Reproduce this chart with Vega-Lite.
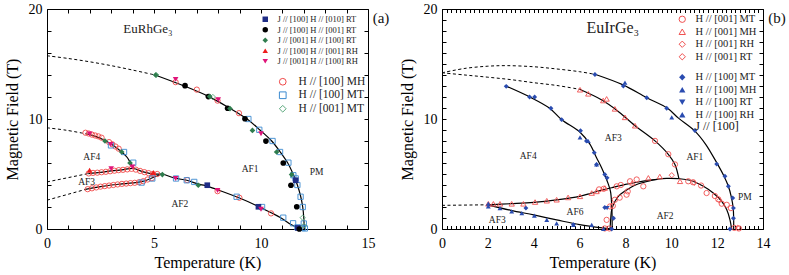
{
"$schema": "https://vega.github.io/schema/vega-lite/v6.json",
"padding": {"left": 3, "top": 1, "right": 0, "bottom": 0},
"spacing": 8,
"config": {
  "view": {"stroke": "black", "strokeWidth": 1},
  "axis": {"grid": false, "domain": false, "tickColor": "black", "tickWidth": 1, "labelColor": "black", "titleColor": "black", "labelFont": "Liberation Serif", "titleFont": "Liberation Serif", "titleFontWeight": "normal", "labelFlush": false, "labelOverlap": false},
  "legend": {"labelFont": "Liberation Serif", "labelColor": "#222", "titleFont": "Liberation Serif", "titleColor": "#111", "titleFontWeight": "normal", "padding": 0, "labelLimit": 300},
  "text": {"font": "Liberation Serif"}
},
"datasets": {
  "aL": [
    {"c":"u0","st":"d","T":0,"H":15.75},{"c":"u0","st":"d","T":1,"H":15.5},{"c":"u0","st":"d","T":2,"H":15.2},{"c":"u0","st":"d","T":3,"H":14.85},{"c":"u0","st":"d","T":4,"H":14.45},{"c":"u0","st":"d","T":5.05,"H":14.0},
    {"c":"u1","st":"s","T":5.05,"H":14.0},{"c":"u1","st":"s","T":6.45,"H":12.97},{"c":"u1","st":"s","T":7.54,"H":12.06},{"c":"u1","st":"s","T":8.44,"H":11.1},{"c":"u1","st":"s","T":9.35,"H":10.0},{"c":"u1","st":"s","T":9.95,"H":9.0},{"c":"u1","st":"s","T":10.5,"H":8.0},{"c":"u1","st":"s","T":10.9,"H":7.0},{"c":"u1","st":"s","T":11.25,"H":6.0},{"c":"u1","st":"s","T":11.5,"H":5.0},{"c":"u1","st":"s","T":11.7,"H":4.0},{"c":"u1","st":"s","T":11.85,"H":3.0},{"c":"u1","st":"s","T":11.95,"H":2.0},{"c":"u1","st":"s","T":12.0,"H":1.0},{"c":"u1","st":"s","T":12.02,"H":0},
    {"c":"l1","st":"s","T":5.39,"H":5.02},{"c":"l1","st":"s","T":5.98,"H":4.62},{"c":"l1","st":"s","T":6.53,"H":4.43},{"c":"l1","st":"s","T":7.07,"H":4.08},{"c":"l1","st":"s","T":7.4,"H":3.95},{"c":"l1","st":"s","T":8.0,"H":3.55},{"c":"l1","st":"s","T":8.94,"H":2.86},{"c":"l1","st":"s","T":9.88,"H":2.05},{"c":"l1","st":"s","T":10.5,"H":1.45},{"c":"l1","st":"s","T":10.9,"H":1.05},{"c":"l1","st":"s","T":11.4,"H":0.4},{"c":"l1","st":"s","T":11.85,"H":0},
    {"c":"f0","st":"d","T":0,"H":9.2},{"c":"f0","st":"d","T":0.9,"H":8.98},{"c":"f0","st":"d","T":1.8,"H":8.66},
    {"c":"f1","st":"s","T":1.8,"H":8.66},{"c":"f1","st":"s","T":2.3,"H":8.4},{"c":"f1","st":"s","T":2.71,"H":8.05},{"c":"f1","st":"s","T":3.1,"H":7.6},{"c":"f1","st":"s","T":3.49,"H":7.0},{"c":"f1","st":"s","T":3.75,"H":6.5},{"c":"f1","st":"s","T":3.9,"H":6.0},{"c":"f1","st":"s","T":4.05,"H":5.5},
    {"c":"g0","st":"d","T":0,"H":4.28},{"c":"g0","st":"d","T":1.93,"H":5.04},
    {"c":"g1","st":"s","T":1.93,"H":5.04},{"c":"g1","st":"s","T":2.5,"H":5.15},{"c":"g1","st":"s","T":3.0,"H":5.28},{"c":"g1","st":"s","T":3.5,"H":5.38},{"c":"g1","st":"s","T":4.03,"H":5.5},{"c":"g1","st":"s","T":4.5,"H":5.2},{"c":"g1","st":"s","T":5.0,"H":5.0},{"c":"g1","st":"s","T":5.39,"H":5.02},
    {"c":"h0","st":"d","T":0,"H":2.62},{"c":"h0","st":"d","T":1.8,"H":3.6},
    {"c":"h1","st":"s","T":1.8,"H":3.6},{"c":"h1","st":"s","T":2.5,"H":3.85},{"c":"h1","st":"s","T":3.0,"H":4.0},{"c":"h1","st":"s","T":3.5,"H":4.1},{"c":"h1","st":"s","T":4.0,"H":4.2},{"c":"h1","st":"s","T":4.42,"H":4.3},{"c":"h1","st":"s","T":4.8,"H":4.55},{"c":"h1","st":"s","T":5.05,"H":4.75},{"c":"h1","st":"s","T":5.39,"H":5.02}
  ],
  "aP": [
    {"s":"J // [100] H // [010] RT","T":7.49,"H":3.98},{"s":"J // [100] H // [010] RT","T":9.88,"H":2.02},{"s":"J // [100] H // [010] RT","T":11.62,"H":4.43},{"s":"J // [100] H // [010] RT","T":11.72,"H":0.1},
    {"s":"J // [100] H // [001] RT","T":6.45,"H":13.03},{"s":"J // [100] H // [001] RT","T":7.54,"H":12.04},{"s":"J // [100] H // [001] RT","T":8.44,"H":10.98},{"s":"J // [100] H // [001] RT","T":9.25,"H":10.02},{"s":"J // [100] H // [001] RT","T":10.23,"H":7.99},{"s":"J // [100] H // [001] RT","T":11.04,"H":6.0},{"s":"J // [100] H // [001] RT","T":11.4,"H":3.98},{"s":"J // [100] H // [001] RT","T":11.67,"H":2.02},{"s":"J // [100] H // [001] RT","T":11.79,"H":0.0},
    {"s":"J // [001] H // [100] RT","T":5.08,"H":14.0},{"s":"J // [001] H // [100] RT","T":7.6,"H":12.05},{"s":"J // [001] H // [100] RT","T":8.55,"H":10.95},{"s":"J // [001] H // [100] RT","T":9.6,"H":8.96},{"s":"J // [001] H // [100] RT","T":10.73,"H":7.0},{"s":"J // [001] H // [100] RT","T":11.43,"H":4.95},{"s":"J // [001] H // [100] RT","T":2.71,"H":8.0},{"s":"J // [001] H // [100] RT","T":3.49,"H":7.0},{"s":"J // [001] H // [100] RT","T":3.88,"H":6.0},{"s":"J // [001] H // [100] RT","T":5.39,"H":4.95},{"s":"J // [001] H // [100] RT","T":7.07,"H":3.98},
    {"s":"J // [100] H // [001] RH","T":1.99,"H":5.34},{"s":"J // [100] H // [001] RH","T":4.97,"H":5.13},
    {"s":"J // [001] H // [100] RH","T":1.99,"H":8.65},{"s":"J // [001] H // [100] RH","T":2.98,"H":7.69},{"s":"J // [001] H // [100] RH","T":3.0,"H":5.49},{"s":"J // [001] H // [100] RH","T":3.99,"H":5.64},{"s":"J // [001] H // [100] RH","T":6.01,"H":4.59},{"s":"J // [001] H // [100] RH","T":6.01,"H":13.6},{"s":"J // [001] H // [100] RH","T":8.0,"H":11.75},{"s":"J // [001] H // [100] RH","T":10.0,"H":8.66},{"s":"J // [001] H // [100] RH","T":7.97,"H":3.5},{"s":"J // [001] H // [100] RH","T":10.0,"H":1.8},
    {"s":"H // [100] MH","T":1.8,"H":8.75},{"s":"H // [100] MH","T":1.95,"H":8.68},{"s":"H // [100] MH","T":2.1,"H":8.58},{"s":"H // [100] MH","T":2.25,"H":8.5},{"s":"H // [100] MH","T":2.4,"H":8.42},{"s":"H // [100] MH","T":2.55,"H":8.3},{"s":"H // [100] MH","T":2.9,"H":7.9},{"s":"H // [100] MH","T":3.05,"H":7.7},{"s":"H // [100] MH","T":3.2,"H":7.5},{"s":"H // [100] MH","T":3.35,"H":7.3},
    {"s":"H // [100] MH","T":1.95,"H":5.05},{"s":"H // [100] MH","T":2.15,"H":5.1},{"s":"H // [100] MH","T":2.35,"H":5.12},{"s":"H // [100] MH","T":2.55,"H":5.16},{"s":"H // [100] MH","T":2.75,"H":5.2},{"s":"H // [100] MH","T":2.95,"H":5.25},{"s":"H // [100] MH","T":3.15,"H":5.3},{"s":"H // [100] MH","T":3.35,"H":5.35},{"s":"H // [100] MH","T":3.55,"H":5.38},{"s":"H // [100] MH","T":3.75,"H":5.42},{"s":"H // [100] MH","T":3.95,"H":5.47},{"s":"H // [100] MH","T":4.15,"H":5.4},{"s":"H // [100] MH","T":4.35,"H":5.28},{"s":"H // [100] MH","T":4.55,"H":5.17},{"s":"H // [100] MH","T":4.75,"H":5.08},{"s":"H // [100] MH","T":4.95,"H":5.0},{"s":"H // [100] MH","T":5.15,"H":5.0},
    {"s":"H // [100] MH","T":1.9,"H":3.62},{"s":"H // [100] MH","T":2.1,"H":3.7},{"s":"H // [100] MH","T":2.3,"H":3.78},{"s":"H // [100] MH","T":2.5,"H":3.85},{"s":"H // [100] MH","T":2.7,"H":3.9},{"s":"H // [100] MH","T":2.9,"H":3.95},{"s":"H // [100] MH","T":3.1,"H":4.0},{"s":"H // [100] MH","T":3.3,"H":4.05},{"s":"H // [100] MH","T":3.5,"H":4.1},{"s":"H // [100] MH","T":3.7,"H":4.13},{"s":"H // [100] MH","T":3.9,"H":4.17},{"s":"H // [100] MH","T":4.1,"H":4.2},{"s":"H // [100] MH","T":4.3,"H":4.25},{"s":"H // [100] MH","T":4.5,"H":4.35},{"s":"H // [100] MH","T":4.7,"H":4.5},{"s":"H // [100] MH","T":4.9,"H":4.62},
    {"s":"H // [100] MH","T":6.01,"H":13.35},{"s":"H // [100] MH","T":7.0,"H":12.67},{"s":"H // [100] MH","T":7.97,"H":11.67},{"s":"H // [100] MH","T":8.97,"H":10.53},{"s":"H // [100] MH","T":7.97,"H":3.44},{"s":"H // [100] MH","T":8.99,"H":2.84},{"s":"H // [100] MH","T":10.47,"H":1.42},{"s":"H // [100] MH","T":6.55,"H":4.45},
    {"s":"H // [100] MT","T":2.99,"H":7.6},{"s":"H // [100] MT","T":3.6,"H":7.0},{"s":"H // [100] MT","T":4.03,"H":6.03},{"s":"H // [100] MT","T":4.42,"H":4.22},{"s":"H // [100] MT","T":4.92,"H":4.59},{"s":"H // [100] MT","T":6.03,"H":4.59},{"s":"H // [100] MT","T":6.53,"H":4.43},{"s":"H // [100] MT","T":6.88,"H":4.28},{"s":"H // [100] MT","T":8.86,"H":2.93},{"s":"H // [100] MT","T":10.05,"H":2.0},{"s":"H // [100] MT","T":11.04,"H":1.03},{"s":"H // [100] MT","T":11.5,"H":0.52},{"s":"H // [100] MT","T":11.7,"H":0.15},{"s":"H // [100] MT","T":11.95,"H":0.1},{"s":"H // [100] MT","T":12.05,"H":0.05},{"s":"H // [100] MT","T":9.41,"H":10.0},{"s":"H // [100] MT","T":9.92,"H":9.02},{"s":"H // [100] MT","T":10.54,"H":8.0},{"s":"H // [100] MT","T":10.89,"H":7.0},{"s":"H // [100] MT","T":11.28,"H":6.03},{"s":"H // [100] MT","T":11.51,"H":4.89},{"s":"H // [100] MT","T":11.62,"H":4.6},{"s":"H // [100] MT","T":11.7,"H":4.0},{"s":"H // [100] MT","T":11.85,"H":2.93},{"s":"H // [100] MT","T":11.95,"H":2.0},{"s":"H // [100] MT","T":12.0,"H":0.5},
    {"s":"H // [001] MT","T":5.1,"H":14.0},{"s":"H // [001] MT","T":7.75,"H":12.0},{"s":"H // [001] MT","T":11.95,"H":1.03},{"s":"H // [001] MT","T":12.0,"H":0.3}
  ],
  "aT": [{"t":"AF4","T":2.09,"H":6.55},{"t":"AF3","T":1.85,"H":4.28},{"t":"AF2","T":6.21,"H":2.24},{"t":"AF1","T":9.49,"H":5.49},{"t":"PM","T":12.6,"H":5.19}],
  "aN": [{"t":"EuRhGe₃","T":4.72,"H":18.2}],
  "aG": [{"t":"(a)","T":15,"H":19.2}],
  "bL": [
    {"c":"o0","st":"d","T":0,"H":14.2},{"c":"o0","st":"d","T":1,"H":14.6},{"c":"o0","st":"d","T":2,"H":14.8},{"c":"o0","st":"d","T":2.82,"H":14.85},{"c":"o0","st":"d","T":4,"H":14.75},{"c":"o0","st":"d","T":5,"H":14.55},{"c":"o0","st":"d","T":6,"H":14.3},{"c":"o0","st":"d","T":6.7,"H":14.05},
    {"c":"o1","st":"s","T":6.7,"H":14.05},{"c":"o1","st":"s","T":7.9,"H":13.1},{"c":"o1","st":"s","T":8.93,"H":11.93},{"c":"o1","st":"s","T":9.85,"H":10.95},{"c":"o1","st":"s","T":10.3,"H":10.1},{"c":"o1","st":"s","T":11.03,"H":8.9},{"c":"o1","st":"s","T":11.5,"H":7.7},{"c":"o1","st":"s","T":11.98,"H":6.03},{"c":"o1","st":"s","T":12.3,"H":4.8},{"c":"o1","st":"s","T":12.49,"H":3.88},{"c":"o1","st":"s","T":12.62,"H":2.9},{"c":"o1","st":"s","T":12.7,"H":1.9},{"c":"o1","st":"s","T":12.72,"H":1.0},{"c":"o1","st":"s","T":12.72,"H":0},
    {"c":"m0","st":"d","T":0,"H":14.2},{"c":"m0","st":"d","T":1,"H":14.0},{"c":"m0","st":"d","T":2,"H":13.8},{"c":"m0","st":"d","T":3,"H":13.58},{"c":"m0","st":"d","T":4,"H":13.3},{"c":"m0","st":"d","T":5,"H":13.05},{"c":"m0","st":"d","T":6.0,"H":12.7},
    {"c":"m1","st":"s","T":6.0,"H":12.7},{"c":"m1","st":"s","T":6.95,"H":11.75},{"c":"m1","st":"s","T":7.62,"H":10.8},{"c":"m1","st":"s","T":8.42,"H":9.39},{"c":"m1","st":"s","T":9.29,"H":8.01},{"c":"m1","st":"s","T":9.87,"H":6.79},{"c":"m1","st":"s","T":10.16,"H":5.87},{"c":"m1","st":"s","T":10.33,"H":4.6},
    {"c":"f1","st":"s","T":2.82,"H":12.97},{"c":"f1","st":"s","T":3.84,"H":11.99},{"c":"f1","st":"s","T":4.68,"H":11.0},{"c":"f1","st":"s","T":5.22,"H":9.94},{"c":"f1","st":"s","T":6.02,"H":8.8},{"c":"f1","st":"s","T":6.45,"H":7.71},{"c":"f1","st":"s","T":6.74,"H":6.48},{"c":"f1","st":"s","T":6.96,"H":5.57},{"c":"f1","st":"s","T":7.12,"H":4.8},{"c":"f1","st":"s","T":7.25,"H":4.1},{"c":"f1","st":"s","T":7.35,"H":3.4},{"c":"f1","st":"s","T":7.4,"H":2.2},{"c":"f1","st":"s","T":7.42,"H":1.0},{"c":"f1","st":"s","T":7.42,"H":0},
    {"c":"u0","st":"d","T":0,"H":2.15},{"c":"u0","st":"d","T":2.0,"H":2.2},
    {"c":"u1","st":"s","T":2.0,"H":2.2},{"c":"u1","st":"s","T":3.0,"H":2.3},{"c":"u1","st":"s","T":4.0,"H":2.42},{"c":"u1","st":"s","T":5.0,"H":2.65},{"c":"u1","st":"s","T":6.0,"H":2.97},{"c":"u1","st":"s","T":6.5,"H":3.25},{"c":"u1","st":"s","T":7.0,"H":3.55},{"c":"u1","st":"s","T":7.4,"H":3.75},{"c":"u1","st":"s","T":8.0,"H":4.05},{"c":"u1","st":"s","T":8.5,"H":4.25},{"c":"u1","st":"s","T":9.0,"H":4.42},{"c":"u1","st":"s","T":9.4,"H":4.52},
    {"c":"d1","st":"s","T":7.33,"H":0},{"c":"d1","st":"s","T":7.36,"H":0.98},{"c":"d1","st":"s","T":7.4,"H":1.74},{"c":"d1","st":"s","T":7.54,"H":2.5},{"c":"d1","st":"s","T":7.76,"H":3.12},{"c":"d1","st":"s","T":8.12,"H":3.64},{"c":"d1","st":"s","T":8.49,"H":4.04},{"c":"d1","st":"s","T":9.0,"H":4.35},{"c":"d1","st":"s","T":9.4,"H":4.52},{"c":"d1","st":"s","T":9.8,"H":4.6},{"c":"d1","st":"s","T":10.3,"H":4.58},{"c":"d1","st":"s","T":10.82,"H":4.43},{"c":"d1","st":"s","T":11.4,"H":3.88},{"c":"d1","st":"s","T":11.83,"H":3.27},{"c":"d1","st":"s","T":12.2,"H":2.51},{"c":"d1","st":"s","T":12.42,"H":1.74},{"c":"d1","st":"s","T":12.56,"H":0.83},{"c":"d1","st":"s","T":12.63,"H":0},
    {"c":"l1","st":"s","T":2.0,"H":2.2},{"c":"l1","st":"s","T":3.0,"H":1.7},{"c":"l1","st":"s","T":4.0,"H":1.28},{"c":"l1","st":"s","T":5.0,"H":0.83},{"c":"l1","st":"s","T":6.0,"H":0.4},{"c":"l1","st":"s","T":7.0,"H":0.1},{"c":"l1","st":"s","T":7.35,"H":0.02}
  ],
  "bP": [
    {"s":"H // [001] MT","T":7.18,"H":0.83},{"s":"H // [001] MT","T":7.33,"H":2.05},{"s":"H // [001] MT","T":7.45,"H":2.1},{"s":"H // [001] MT","T":7.54,"H":2.66},{"s":"H // [001] MT","T":7.75,"H":2.85},{"s":"H // [001] MT","T":8.05,"H":3.12},{"s":"H // [001] MT","T":8.1,"H":3.42},{"s":"H // [001] MT","T":8.78,"H":3.88},{"s":"H // [001] MT","T":7.3,"H":0.05},{"s":"H // [001] MT","T":7.1,"H":0.05},{"s":"H // [001] MT","T":9.29,"H":8.01},{"s":"H // [001] MT","T":9.87,"H":6.8},{"s":"H // [001] MT","T":10.16,"H":5.87},{"s":"H // [001] MT","T":10.74,"H":4.34},{"s":"H // [001] MT","T":10.95,"H":4.25},{"s":"H // [001] MT","T":11.54,"H":3.27},{"s":"H // [001] MT","T":11.9,"H":3.0},{"s":"H // [001] MT","T":12.05,"H":2.7},{"s":"H // [001] MT","T":12.42,"H":2.2},{"s":"H // [001] MT","T":12.6,"H":1.9},{"s":"H // [001] MT","T":12.75,"H":0.1},{"s":"H // [001] MT","T":12.95,"H":0.05},{"s":"H // [001] MT","T":7.62,"H":3.88},{"s":"H // [001] MT","T":7.8,"H":4.0},{"s":"H // [001] MT","T":8.2,"H":4.34},{"s":"H // [001] MT","T":8.49,"H":4.5},{"s":"H // [001] MT","T":6.85,"H":3.6},{"s":"H // [001] MT","T":7.05,"H":3.65},{"s":"H // [001] MT","T":11.3,"H":3.95},{"s":"H // [001] MT","T":12.2,"H":2.3},
    {"s":"H // [001] MH","T":2.02,"H":2.29},{"s":"H // [001] MH","T":2.24,"H":2.29},{"s":"H // [001] MH","T":2.53,"H":2.29},{"s":"H // [001] MH","T":3.04,"H":2.29},{"s":"H // [001] MH","T":3.55,"H":2.29},{"s":"H // [001] MH","T":4.06,"H":2.45},{"s":"H // [001] MH","T":4.57,"H":2.57},{"s":"H // [001] MH","T":5.0,"H":2.66},{"s":"H // [001] MH","T":5.5,"H":2.87},{"s":"H // [001] MH","T":6.02,"H":2.97},{"s":"H // [001] MH","T":6.53,"H":3.27},{"s":"H // [001] MH","T":6.74,"H":3.42},{"s":"H // [001] MH","T":7.1,"H":3.73},{"s":"H // [001] MH","T":8.3,"H":4.2},{"s":"H // [001] MH","T":9.0,"H":4.65},{"s":"H // [001] MH","T":9.5,"H":4.77},{"s":"H // [001] MH","T":10.38,"H":4.34},{"s":"H // [001] MH","T":6.02,"H":12.66},{"s":"H // [001] MH","T":6.38,"H":12.29},{"s":"H // [001] MH","T":7.03,"H":11.68},{"s":"H // [001] MH","T":7.18,"H":11.83},{"s":"H // [001] MH","T":7.54,"H":10.92},{"s":"H // [001] MH","T":7.98,"H":10.15},{"s":"H // [001] MH","T":8.42,"H":9.39},
    {"s":"H // [001] RH","T":12.1,"H":2.6},{"s":"H // [001] RH","T":11.0,"H":4.2},
    {"s":"H // [001] RT","T":10.02,"H":4.89},{"s":"H // [001] RT","T":12.9,"H":0.1},
    {"s":"H // [100] MT","T":2.8,"H":12.97},{"s":"H // [100] MT","T":3.82,"H":12.0},{"s":"H // [100] MT","T":4.04,"H":12.0},{"s":"H // [100] MT","T":4.75,"H":10.98},{"s":"H // [100] MT","T":5.22,"H":9.94},{"s":"H // [100] MT","T":6.04,"H":8.93},{"s":"H // [100] MT","T":6.3,"H":8.0},{"s":"H // [100] MT","T":6.64,"H":6.94},{"s":"H // [100] MT","T":6.74,"H":5.87},{"s":"H // [100] MT","T":7.1,"H":4.96},{"s":"H // [100] MT","T":7.2,"H":4.65},{"s":"H // [100] MT","T":3.66,"H":1.9},{"s":"H // [100] MT","T":5.73,"H":0.4},{"s":"H // [100] MT","T":7.1,"H":1.96},{"s":"H // [100] MT","T":7.48,"H":0.98},{"s":"H // [100] MT","T":7.4,"H":0.0},{"s":"H // [100] MT","T":6.67,"H":14.04},{"s":"H // [100] MT","T":7.91,"H":13.0},{"s":"H // [100] MT","T":8.93,"H":11.93},{"s":"H // [100] MT","T":9.8,"H":10.98},{"s":"H // [100] MT","T":11.03,"H":8.95},{"s":"H // [100] MT","T":11.98,"H":5.9},{"s":"H // [100] MT","T":12.34,"H":4.8},{"s":"H // [100] MT","T":12.49,"H":3.88},{"s":"H // [100] MT","T":12.68,"H":2.82},{"s":"H // [100] MT","T":12.71,"H":1.9},{"s":"H // [100] MT","T":12.71,"H":0.98},{"s":"H // [100] MT","T":12.56,"H":0.0},
    {"s":"H // [100] MH","T":2.02,"H":2.05},{"s":"H // [100] MH","T":2.02,"H":2.3},{"s":"H // [100] MH","T":2.53,"H":1.9},{"s":"H // [100] MH","T":3.04,"H":1.6},{"s":"H // [100] MH","T":3.48,"H":1.44},{"s":"H // [100] MH","T":4.03,"H":1.22},{"s":"H // [100] MH","T":4.57,"H":0.83},{"s":"H // [100] MH","T":5.0,"H":0.52},{"s":"H // [100] MH","T":5.73,"H":0.37},{"s":"H // [100] MH","T":6.53,"H":0.37},{"s":"H // [100] MH","T":7.04,"H":0.0},{"s":"H // [100] MH","T":6.02,"H":8.32},{"s":"H // [100] MH","T":6.38,"H":8.0},{"s":"H // [100] MH","T":7.98,"H":13.3},{"s":"H // [100] MH","T":10.02,"H":10.15},
    {"s":"H // [100] RT","T":7.2,"H":1.9},
    {"s":"H // [100] RH","T":6.74,"H":5.87}
  ],
  "bT": [{"t":"AF4","T":3.76,"H":6.63},{"t":"AF6","T":5.8,"H":1.59},{"t":"AF3","T":2.41,"H":0.83},{"t":"AF3","T":7.47,"H":8.26},{"t":"AF1","T":11.03,"H":6.54},{"t":"AF2","T":9.73,"H":1.22},{"t":"PM","T":13.21,"H":2.87}],
  "bN": [{"t":"EuIrGe₃","T":7.45,"H":18.3}],
  "bG": [{"t":"(b)","T":14,"H":19.2}]
},
"resolve": {"scale": {"x": "independent", "y": "independent"}},
"hconcat": [
  {
    "width": 321, "height": 220,
    "resolve": {"axis": {"x": "independent", "y": "independent"}, "scale": {"shape": "independent", "fill": "independent", "stroke": "independent"}},
    "layer": [
      {"data": {"name": "aL"}, "transform": [{"filter": "datum.st === 's'"}],
       "mark": {"type": "line", "interpolate": "catmull-rom", "color": "black", "strokeWidth": 1.2},
       "encoding": {
         "x": {"field": "T", "type": "quantitative", "scale": {"domain": [0, 15], "nice": false, "zero": false},
               "axis": {"orient": "bottom", "values": [0,1,2,3,4,5,6,7,8,9,10,11,12,13,14,15], "labelExpr": "datum.value % 5 === 0 ? datum.label : ''", "tickSize": -4, "labelPadding": 11, "labelFontSize": 14, "title": "Temperature (K)", "titleFontSize": 16, "titlePadding": 4}},
         "y": {"field": "H", "type": "quantitative", "scale": {"domain": [0, 20], "nice": false, "zero": false},
               "axis": {"orient": "left", "values": [0,2,4,6,8,10,12,14,16,18,20], "labelExpr": "datum.value % 10 === 0 ? datum.label : ''", "tickSize": -4, "labelPadding": 9, "labelFontSize": 14, "title": "Magnetic Field (T)", "titleFontSize": 16, "titlePadding": 8}},
         "detail": {"field": "c"},
         "order": {"value": null}
       }},
      {"data": {"name": "aL"}, "transform": [{"filter": "datum.st === 'd'"}],
       "mark": {"type": "line", "interpolate": "catmull-rom", "color": "black", "strokeWidth": 1, "strokeDash": [3, 2.5]},
       "encoding": {
         "x": {"field": "T", "type": "quantitative", "scale": {"domain": [0, 15], "nice": false, "zero": false},
               "axis": {"orient": "top", "values": [0,1,2,3,4,5,6,7,8,9,10,11,12,13,14,15], "labels": false, "tickSize": -4, "title": null}},
         "y": {"field": "H", "type": "quantitative", "scale": {"domain": [0, 20], "nice": false, "zero": false},
               "axis": {"orient": "right", "values": [0,2,4,6,8,10,12,14,16,18,20], "labels": false, "tickSize": -4, "title": null}},
         "detail": {"field": "c"},
         "order": {"value": null}
       }},
      {"data": {"name": "aP"}, "transform": [{"filter": {"field": "s", "oneOf": ["H // [100] MH", "H // [100] MT", "H // [001] MT"]}}],
       "mark": {"type": "point", "filled": false, "size": 28, "strokeWidth": 0.9, "opacity": 1},
       "encoding": {
         "x": {"field": "T", "type": "quantitative", "axis": null},
         "y": {"field": "H", "type": "quantitative", "axis": null},
         "shape": {"field": "s", "type": "nominal", "scale": {"domain": ["H // [100] MH", "H // [100] MT", "H // [001] MT"], "range": ["circle", "square", "diamond"]},
                   "legend": {"orient": "none", "legendX": 230, "legendY": 67, "title": null, "labelFontSize": 11.5, "symbolSize": 45, "rowPadding": 0.5, "labelOffset": 10, "symbolStrokeWidth": 1}},
         "stroke": {"field": "s", "type": "nominal", "scale": {"domain": ["H // [100] MH", "H // [100] MT", "H // [001] MT"], "range": ["#f04848", "#3c8ad0", "#5aa87c"]},
                   "legend": {"orient": "none", "legendX": 230, "legendY": 67, "title": null, "labelFontSize": 11.5, "symbolSize": 45, "rowPadding": 0.5, "labelOffset": 10, "symbolStrokeWidth": 1}}
       }},
      {"data": {"name": "aP"}, "transform": [{"filter": {"field": "s", "oneOf": ["J // [100] H // [010] RT", "J // [100] H // [001] RT", "J // [001] H // [100] RT", "J // [100] H // [001] RH", "J // [001] H // [100] RH"]}}],
       "mark": {"type": "point", "filled": true, "size": 32, "strokeWidth": 0, "opacity": 1},
       "encoding": {
         "x": {"field": "T", "type": "quantitative", "axis": null},
         "y": {"field": "H", "type": "quantitative", "axis": null},
         "shape": {"field": "s", "type": "nominal", "scale": {"domain": ["J // [100] H // [010] RT", "J // [100] H // [001] RT", "J // [001] H // [100] RT", "J // [100] H // [001] RH", "J // [001] H // [100] RH"], "range": ["square", "circle", "diamond", "triangle-up", "triangle-down"]},
                   "legend": {"orient": "none", "legendX": 214, "legendY": 6, "title": null, "labelFontSize": 8.5, "symbolSize": 30, "rowPadding": 1.5, "labelOffset": 8, "symbolStrokeWidth": 0}},
         "fill": {"field": "s", "type": "nominal", "scale": {"domain": ["J // [100] H // [010] RT", "J // [100] H // [001] RT", "J // [001] H // [100] RT", "J // [100] H // [001] RH", "J // [001] H // [100] RH"], "range": ["#1f2d86", "#000000", "#2f7d4e", "#ee1c1c", "#e0147a"]},
                   "legend": {"orient": "none", "legendX": 214, "legendY": 6, "title": null, "labelFontSize": 8.5, "symbolSize": 30, "rowPadding": 1.5, "labelOffset": 8, "symbolStrokeWidth": 0}}
       }},
      {"data": {"name": "aT"}, "mark": {"type": "text", "fontSize": 9.5, "color": "#222"},
       "encoding": {"x": {"field": "T", "type": "quantitative", "axis": null}, "y": {"field": "H", "type": "quantitative", "axis": null}, "text": {"field": "t"}}},
      {"data": {"name": "aN"}, "mark": {"type": "text", "fontSize": 13, "color": "#222"},
       "encoding": {"x": {"field": "T", "type": "quantitative", "axis": null}, "y": {"field": "H", "type": "quantitative", "axis": null}, "text": {"field": "t"}}},
      {"data": {"name": "aG"}, "mark": {"type": "text", "fontSize": 15, "color": "#111", "dx": 13},
       "encoding": {"x": {"field": "T", "type": "quantitative", "axis": null}, "y": {"field": "H", "type": "quantitative", "axis": null}, "text": {"field": "t"}}}
    ]
  },
  {
    "width": 321, "height": 220,
    "resolve": {"axis": {"x": "independent", "y": "independent"}, "scale": {"shape": "independent", "fill": "independent", "stroke": "independent"}},
    "layer": [
      {"data": {"name": "bL"}, "transform": [{"filter": "datum.st === 's'"}],
       "mark": {"type": "line", "interpolate": "catmull-rom", "color": "black", "strokeWidth": 1.2},
       "encoding": {
         "x": {"field": "T", "type": "quantitative", "scale": {"domain": [0, 14], "nice": false, "zero": false},
               "axis": {"orient": "bottom", "values": [0,0.2,0.4,0.6,0.8,1,1.2,1.4,1.6,1.8,2,2.2,2.4,2.6,2.8,3,3.2,3.4,3.6,3.8,4,4.2,4.4,4.6,4.8,5,5.2,5.4,5.6,5.8,6,6.2,6.4,6.6,6.8,7,7.2,7.4,7.6,7.8,8,8.2,8.4,8.6,8.8,9,9.2,9.4,9.6,9.8,10,10.2,10.4,10.6,10.8,11,11.2,11.4,11.6,11.8,12,12.2,12.4,12.6,12.8,13,13.2,13.4,13.6,13.8,14], "labelExpr": "datum.value % 2 === 0 ? format(datum.value, 'd') : ''", "tickSize": -3.5, "labelPadding": 10.5, "labelFontSize": 14, "title": "Temperature (K)", "titleFontSize": 16, "titlePadding": 4}},
         "y": {"field": "H", "type": "quantitative", "scale": {"domain": [0, 20], "nice": false, "zero": false},
               "axis": {"orient": "left", "values": [0,1,2,3,4,5,6,7,8,9,10,11,12,13,14,15,16,17,18,19,20], "labelExpr": "datum.value % 10 === 0 ? datum.label : ''", "tickSize": -4, "labelPadding": 9, "labelFontSize": 14, "title": "Magnetic Field (T)", "titleFontSize": 16, "titlePadding": 8}},
         "detail": {"field": "c"},
         "order": {"value": null}
       }},
      {"data": {"name": "bL"}, "transform": [{"filter": "datum.st === 'd'"}],
       "mark": {"type": "line", "interpolate": "catmull-rom", "color": "black", "strokeWidth": 1, "strokeDash": [3, 2.5]},
       "encoding": {
         "x": {"field": "T", "type": "quantitative", "scale": {"domain": [0, 14], "nice": false, "zero": false},
               "axis": {"orient": "top", "values": [0,0.2,0.4,0.6,0.8,1,1.2,1.4,1.6,1.8,2,2.2,2.4,2.6,2.8,3,3.2,3.4,3.6,3.8,4,4.2,4.4,4.6,4.8,5,5.2,5.4,5.6,5.8,6,6.2,6.4,6.6,6.8,7,7.2,7.4,7.6,7.8,8,8.2,8.4,8.6,8.8,9,9.2,9.4,9.6,9.8,10,10.2,10.4,10.6,10.8,11,11.2,11.4,11.6,11.8,12,12.2,12.4,12.6,12.8,13,13.2,13.4,13.6,13.8,14], "labels": false, "tickSize": -3.5, "title": null}},
         "y": {"field": "H", "type": "quantitative", "scale": {"domain": [0, 20], "nice": false, "zero": false},
               "axis": {"orient": "right", "values": [0,1,2,3,4,5,6,7,8,9,10,11,12,13,14,15,16,17,18,19,20], "labels": false, "tickSize": -4, "title": null}},
         "detail": {"field": "c"},
         "order": {"value": null}
       }},
      {"data": {"name": "bP"}, "transform": [{"filter": {"field": "s", "oneOf": ["H // [001] MT", "H // [001] MH", "H // [001] RH", "H // [001] RT"]}}],
       "mark": {"type": "point", "filled": false, "size": 28, "strokeWidth": 0.9, "opacity": 1},
       "encoding": {
         "x": {"field": "T", "type": "quantitative", "axis": null},
         "y": {"field": "H", "type": "quantitative", "axis": null},
         "shape": {"field": "s", "type": "nominal", "scale": {"domain": ["H // [001] MT", "H // [001] MH", "H // [001] RH", "H // [001] RT"], "range": ["circle", "triangle-up", "diamond", "diamond"]},
                   "legend": {"orient": "none", "legendX": 235, "legendY": 5, "title": null, "labelFontSize": 10.5, "symbolSize": 40, "rowPadding": 1.5, "labelOffset": 8, "symbolStrokeWidth": 1}},
         "stroke": {"field": "s", "type": "nominal", "scale": {"domain": ["H // [001] MT", "H // [001] MH", "H // [001] RH", "H // [001] RT"], "range": ["#f05050", "#f05050", "#f05050", "#f05050"]},
                   "legend": {"orient": "none", "legendX": 235, "legendY": 5, "title": null, "labelFontSize": 10.5, "symbolSize": 40, "rowPadding": 1.5, "labelOffset": 8, "symbolStrokeWidth": 1}}
       }},
      {"data": {"name": "bP"}, "transform": [{"filter": {"field": "s", "oneOf": ["H // [100] MT", "H // [100] MH", "H // [100] RT", "H // [100] RH"]}}],
       "mark": {"type": "point", "filled": true, "size": 24, "strokeWidth": 0, "opacity": 1},
       "encoding": {
         "x": {"field": "T", "type": "quantitative", "axis": null},
         "y": {"field": "H", "type": "quantitative", "axis": null},
         "shape": {"field": "s", "type": "nominal", "scale": {"domain": ["H // [100] MT", "H // [100] MH", "H // [100] RT", "H // [100] RH"], "range": ["diamond", "triangle-up", "triangle-down", "triangle-up"]},
                   "legend": {"orient": "none", "legendX": 235, "legendY": 63, "title": "J // [100]", "titleOrient": "bottom", "titleAnchor": "middle", "titleFontSize": 12, "titlePadding": 1, "labelFontSize": 10.5, "symbolSize": 40, "rowPadding": 1.5, "labelOffset": 8, "symbolStrokeWidth": 0}},
         "fill": {"field": "s", "type": "nominal", "scale": {"domain": ["H // [100] MT", "H // [100] MH", "H // [100] RT", "H // [100] RH"], "range": ["#2a4cb0", "#2a4cb0", "#2a4cb0", "#2a4cb0"]},
                   "legend": {"orient": "none", "legendX": 235, "legendY": 63, "title": "J // [100]", "titleOrient": "bottom", "titleAnchor": "middle", "titleFontSize": 12, "titlePadding": 1, "labelFontSize": 10.5, "symbolSize": 40, "rowPadding": 1.5, "labelOffset": 8, "symbolStrokeWidth": 0}}
       }},
      {"data": {"name": "bT"}, "mark": {"type": "text", "fontSize": 9.5, "color": "#222"},
       "encoding": {"x": {"field": "T", "type": "quantitative", "axis": null}, "y": {"field": "H", "type": "quantitative", "axis": null}, "text": {"field": "t"}}},
      {"data": {"name": "bN"}, "mark": {"type": "text", "fontSize": 16, "color": "#222"},
       "encoding": {"x": {"field": "T", "type": "quantitative", "axis": null}, "y": {"field": "H", "type": "quantitative", "axis": null}, "text": {"field": "t"}}},
      {"data": {"name": "bG"}, "mark": {"type": "text", "fontSize": 15, "color": "#111", "dx": 14},
       "encoding": {"x": {"field": "T", "type": "quantitative", "axis": null}, "y": {"field": "H", "type": "quantitative", "axis": null}, "text": {"field": "t"}}}
    ]
  }
]
}
